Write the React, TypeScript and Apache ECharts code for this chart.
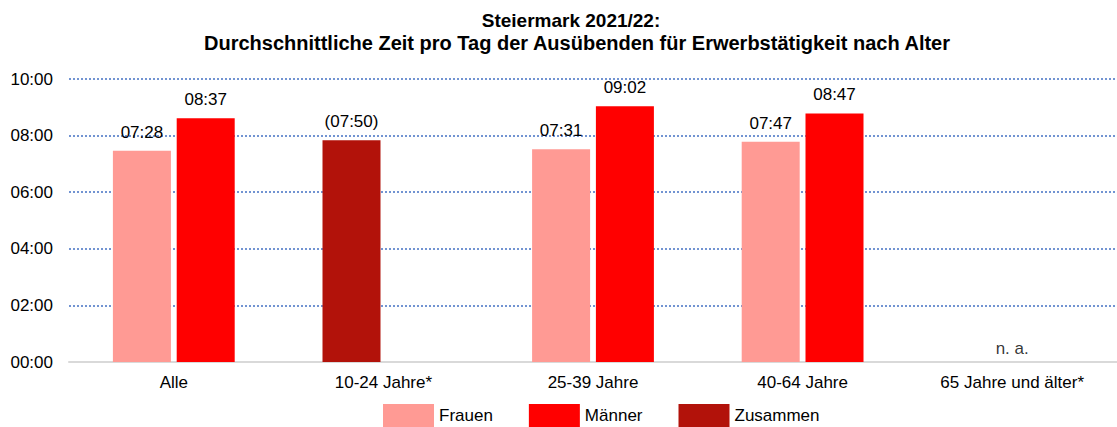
import React, { useEffect, useRef } from "react";
import * as echarts from "echarts";

const categories = ["Alle", "10-24 Jahre*", "25-39 Jahre", "40-64 Jahre", "65 Jahre und älter*"];
// minutes per day
const frauen = [448, null, 451, 467, null];
const maenner = [517, null, 542, 527, null];
const zusammen = [null, 470, null, null, null];
const naMarker = [null, null, null, null, 0];
const yTicks = [0, 120, 240, 360, 480, 600];
const titleLine1 = "Steiermark 2021/22:";
const titleLine2 = "Durchschnittliche Zeit pro Tag der Ausübenden für Erwerbstätigkeit nach Alter";

const fmt = (m: number) => {
  const h = Math.floor(m / 60);
  const mm = Math.round(m - h * 60);
  return String(h).padStart(2, "0") + ":" + String(mm).padStart(2, "0");
};

const FONT = "Liberation Sans, Arial, sans-serif";

export default function App() {
  const ref = useRef<HTMLDivElement>(null);
  useEffect(() => {
    document.body.style.margin = "0";
    const chart = echarts.init(ref.current!, null, { renderer: "svg" });
    const labelBase = {
      show: true,
      position: "top" as const,
      distance: 10,
      fontSize: 17,
      color: "#000",
      fontFamily: FONT,
    };
    chart.setOption({
      animation: false,
      textStyle: { fontFamily: FONT },
      title: [
        {
          text: titleLine1,
          left: 571,
          textAlign: "center",
          top: 11,
          padding: 0,
          textStyle: { fontSize: 19, fontWeight: "bold", color: "#000", fontFamily: FONT },
        },
        {
          text: titleLine2,
          left: 577,
          textAlign: "center",
          top: 33,
          padding: 0,
          textStyle: { fontSize: 20, fontWeight: "bold", color: "#000", fontFamily: FONT },
        },
      ],
      legend: {
        data: ["Frauen", "Männer", "Zusammen"],
        left: 383,
        top: 404,
        padding: 0,
        itemWidth: 51,
        itemHeight: 23,
        itemGap: 36,
        icon: "rect",
        textStyle: { fontSize: 17, color: "#000", fontFamily: FONT },
      },
      grid: { left: 69, top: 79, width: 1057, height: 283, containLabel: false },
      xAxis: {
        type: "category",
        data: categories,
        axisLine: { lineStyle: { color: "#D9D9D9", width: 2 } },
        axisTick: { show: false },
        axisLabel: { fontSize: 17, color: "#000", margin: 12, fontFamily: FONT },
      },
      yAxis: {
        type: "value",
        min: yTicks[0],
        max: yTicks[yTicks.length - 1],
        interval: 120,
        axisLine: { show: false },
        axisTick: { show: false },
        axisLabel: { fontSize: 17, color: "#000", margin: 16, formatter: (v: number) => fmt(v), fontFamily: FONT },
        splitLine: { lineStyle: { color: "#4472C4", type: [2, 2], width: 1.5 } },
      },
      series: [
        {
          name: "Frauen",
          type: "bar",
          stack: "a",
          data: frauen,
          barWidth: 58,
          barGap: "10%",
          itemStyle: { color: "#FF9A94" },
          label: { ...labelBase, formatter: (p: any) => fmt(p.value) },
        },
        {
          name: "Männer",
          type: "bar",
          data: maenner,
          barWidth: 58,
          barGap: "10%",
          itemStyle: { color: "#FF0000" },
          label: { ...labelBase, formatter: (p: any) => fmt(p.value) },
        },
        {
          name: "Zusammen",
          type: "bar",
          stack: "a",
          data: zusammen,
          barWidth: 58,
          barGap: "10%",
          itemStyle: { color: "#B2120A" },
          label: { ...labelBase, formatter: (p: any) => "(" + fmt(p.value) + ")" },
        },
        {
          name: "n. a.",
          type: "scatter",
          data: naMarker,
          symbolSize: 2,
          itemStyle: { color: "rgba(255,255,255,0)" },
          label: { ...labelBase, distance: 4, color: "#000", formatter: () => "n. a." },
          silent: true,
        },
      ],
    });
    return () => chart.dispose();
  }, []);
  return <div ref={ref} style={{ width: 1117, height: 427 }} />;
}
